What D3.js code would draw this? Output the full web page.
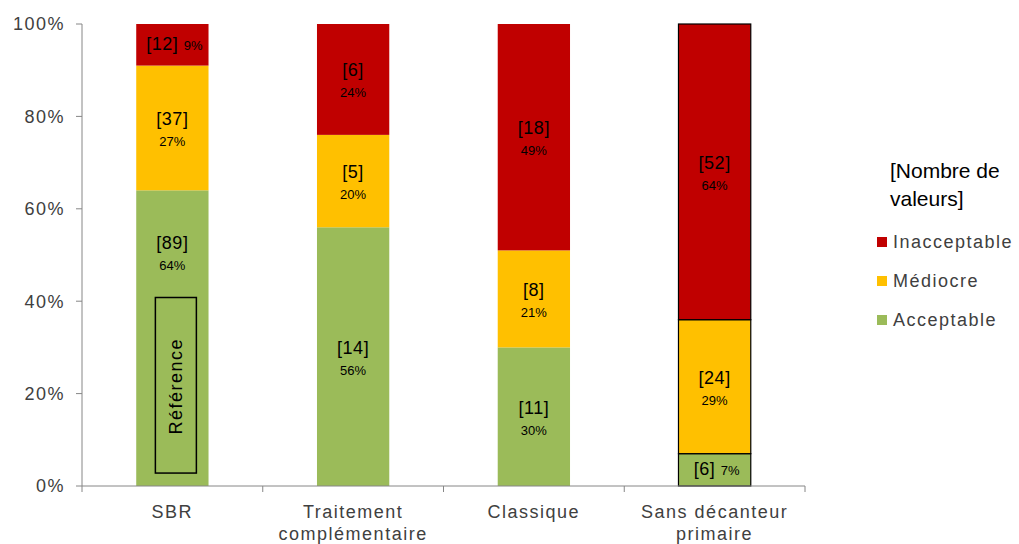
<!DOCTYPE html>
<html><head><meta charset="utf-8">
<script src="https://cdn.jsdelivr.net/npm/d3@7"></script>
<style>body{margin:0;background:#fff}svg{display:block}text{font-family:"Liberation Sans",Arial,sans-serif}</style>
</head><body><svg id="c" width="1019" height="544"></svg>
<script>
const categories = [["SBR"], ["Traitement", "complémentaire"], ["Classique"], ["Sans décanteur", "primaire"]];
const seriesNames = ["Acceptable", "Médiocre", "Inacceptable"];
const seriesColors = ["#9BBB59", "#FFC000", "#C00000"];
const acceptablePct = [64, 56, 30, 7];
const mediocrePct = [27, 20, 21, 29];
const inacceptablePct = [9, 24, 49, 64];
const acceptableCount = [89, 14, 11, 6];
const mediocreCount = [37, 5, 8, 24];
const inacceptableCount = [12, 6, 18, 52];
const yTicks = [0, 20, 40, 60, 80, 100];
const legendTitle = ["[Nombre de", "valeurs]"];
const referenceLabel = "Référence";

(function () {
const svg = d3.select("#c");
const mLeft = 82, mRight = 805, mTop = 24, mBottom = 486;
const x = d3.scaleBand().domain(d3.range(categories.length)).range([mLeft, mRight]).paddingInner(0).paddingOuter(0);
const y = d3.scaleLinear().domain([0, 100]).range([mBottom, mTop]);
const barW = x.bandwidth() * 0.4;
const axisColor = "#868686", textColor = "#404040";
const ls = "1.5px";

const pcts = [acceptablePct, mediocrePct, inacceptablePct];
const counts = [acceptableCount, mediocreCount, inacceptableCount];

// bars
categories.forEach((c, i) => {
  let base = 0;
  const cx = x(i) + x.bandwidth() / 2;
  pcts.forEach((arr, s) => {
    const v = arr[i];
    const y0 = y(base), y1 = y(base + v);
    svg.append("rect").attr("x", cx - barW / 2).attr("y", y1).attr("width", barW).attr("height", y0 - y1)
      .attr("fill", seriesColors[s])
      .attr("stroke", i === 3 ? "#000" : "none").attr("stroke-width", 1.2);
    base += v;
  });
});

// y axis
svg.append("line").attr("x1", mLeft).attr("x2", mLeft).attr("y1", y(100)).attr("y2", y(0)).attr("stroke", axisColor);
yTicks.forEach(t => {
  svg.append("line").attr("x1", mLeft - 6).attr("x2", mLeft).attr("y1", y(t)).attr("y2", y(t)).attr("stroke", axisColor);
  svg.append("text").attr("x", 65).attr("y", y(t)).attr("dy", "0.35em").attr("text-anchor", "end")
    .attr("font-size", 18).attr("letter-spacing", ls).attr("fill", textColor).text(t + "%");
});
// x axis
svg.append("line").attr("x1", mLeft).attr("x2", mRight).attr("y1", mBottom).attr("y2", mBottom).attr("stroke", axisColor);
d3.range(categories.length + 1).forEach(i => {
  const xx = i < categories.length ? x(i) : mRight;
  svg.append("line").attr("x1", xx).attr("x2", xx).attr("y1", mBottom).attr("y2", mBottom + 6).attr("stroke", axisColor);
});
categories.forEach((c, i) => {
  const cx = x(i) + x.bandwidth() / 2;
  c.forEach((line, k) => {
    svg.append("text").attr("x", cx).attr("y", 518 + k * 22).attr("text-anchor", "middle")
      .attr("font-size", 18).attr("letter-spacing", ls).attr("fill", textColor).text(line);
  });
});

// labels
categories.forEach((c, i) => {
  let base = 0;
  const cx = x(i) + x.bandwidth() / 2;
  pcts.forEach((arr, s) => {
    const v = arr[i];
    const mid = y(base + v / 2);
    const nTxt = "[" + counts[s][i] + "]";
    const pTxt = v + "%";
    if (v < 12) {
      const g = svg.append("text").attr("x", cx + 2).attr("y", mid).attr("dy", "0.35em").attr("text-anchor", "middle").attr("fill", "#000");
      g.append("tspan").attr("font-size", 18).attr("letter-spacing", "0.5px").text(nTxt + " ");
      g.append("tspan").attr("font-size", 13).text(pTxt);
    } else {
      const m = (i === 0 && s === 0) ? y(base + v) + 62 : mid;
      svg.append("text").attr("x", cx).attr("y", m - 3).attr("text-anchor", "middle").attr("font-size", 18).attr("letter-spacing", "0.5px").attr("fill", "#000").text(nTxt);
      svg.append("text").attr("x", cx).attr("y", m + 18).attr("text-anchor", "middle").attr("font-size", 13).attr("fill", "#000").text(pTxt);
    }
    base += v;
  });
});

// reference box
{
  const cx = x(0) + x.bandwidth() / 2;
  const bx = cx - 17, bw = 41, by = y(40.8), bh = y(2.8) - y(40.8);
  svg.append("rect").attr("x", bx).attr("y", by).attr("width", bw).attr("height", bh)
    .attr("fill", "none").attr("stroke", "#000").attr("stroke-width", 1.5);
  svg.append("text").attr("transform", `translate(${bx + bw / 2},${by + bh / 2 + 1}) rotate(-90)`)
    .attr("dy", "0.35em").attr("text-anchor", "middle").attr("font-size", 18).attr("letter-spacing", "1.5px").attr("fill", "#000").text(referenceLabel);
}

// legend
legendTitle.forEach((t, k) => {
  svg.append("text").attr("x", 890).attr("y", 178 + k * 28).attr("font-size", 21).attr("fill", "#000").text(t);
});
const legendOrder = [2, 1, 0];
legendOrder.forEach((s, k) => {
  const ly = 242 + k * 39;
  svg.append("rect").attr("x", 877).attr("y", ly - 5).attr("width", 10).attr("height", 10).attr("fill", seriesColors[s]);
  svg.append("text").attr("x", 893).attr("y", ly).attr("dy", "0.35em").attr("font-size", 18).attr("letter-spacing", ls).attr("fill", textColor).text(seriesNames[s]);
});
})();
</script></body></html>
